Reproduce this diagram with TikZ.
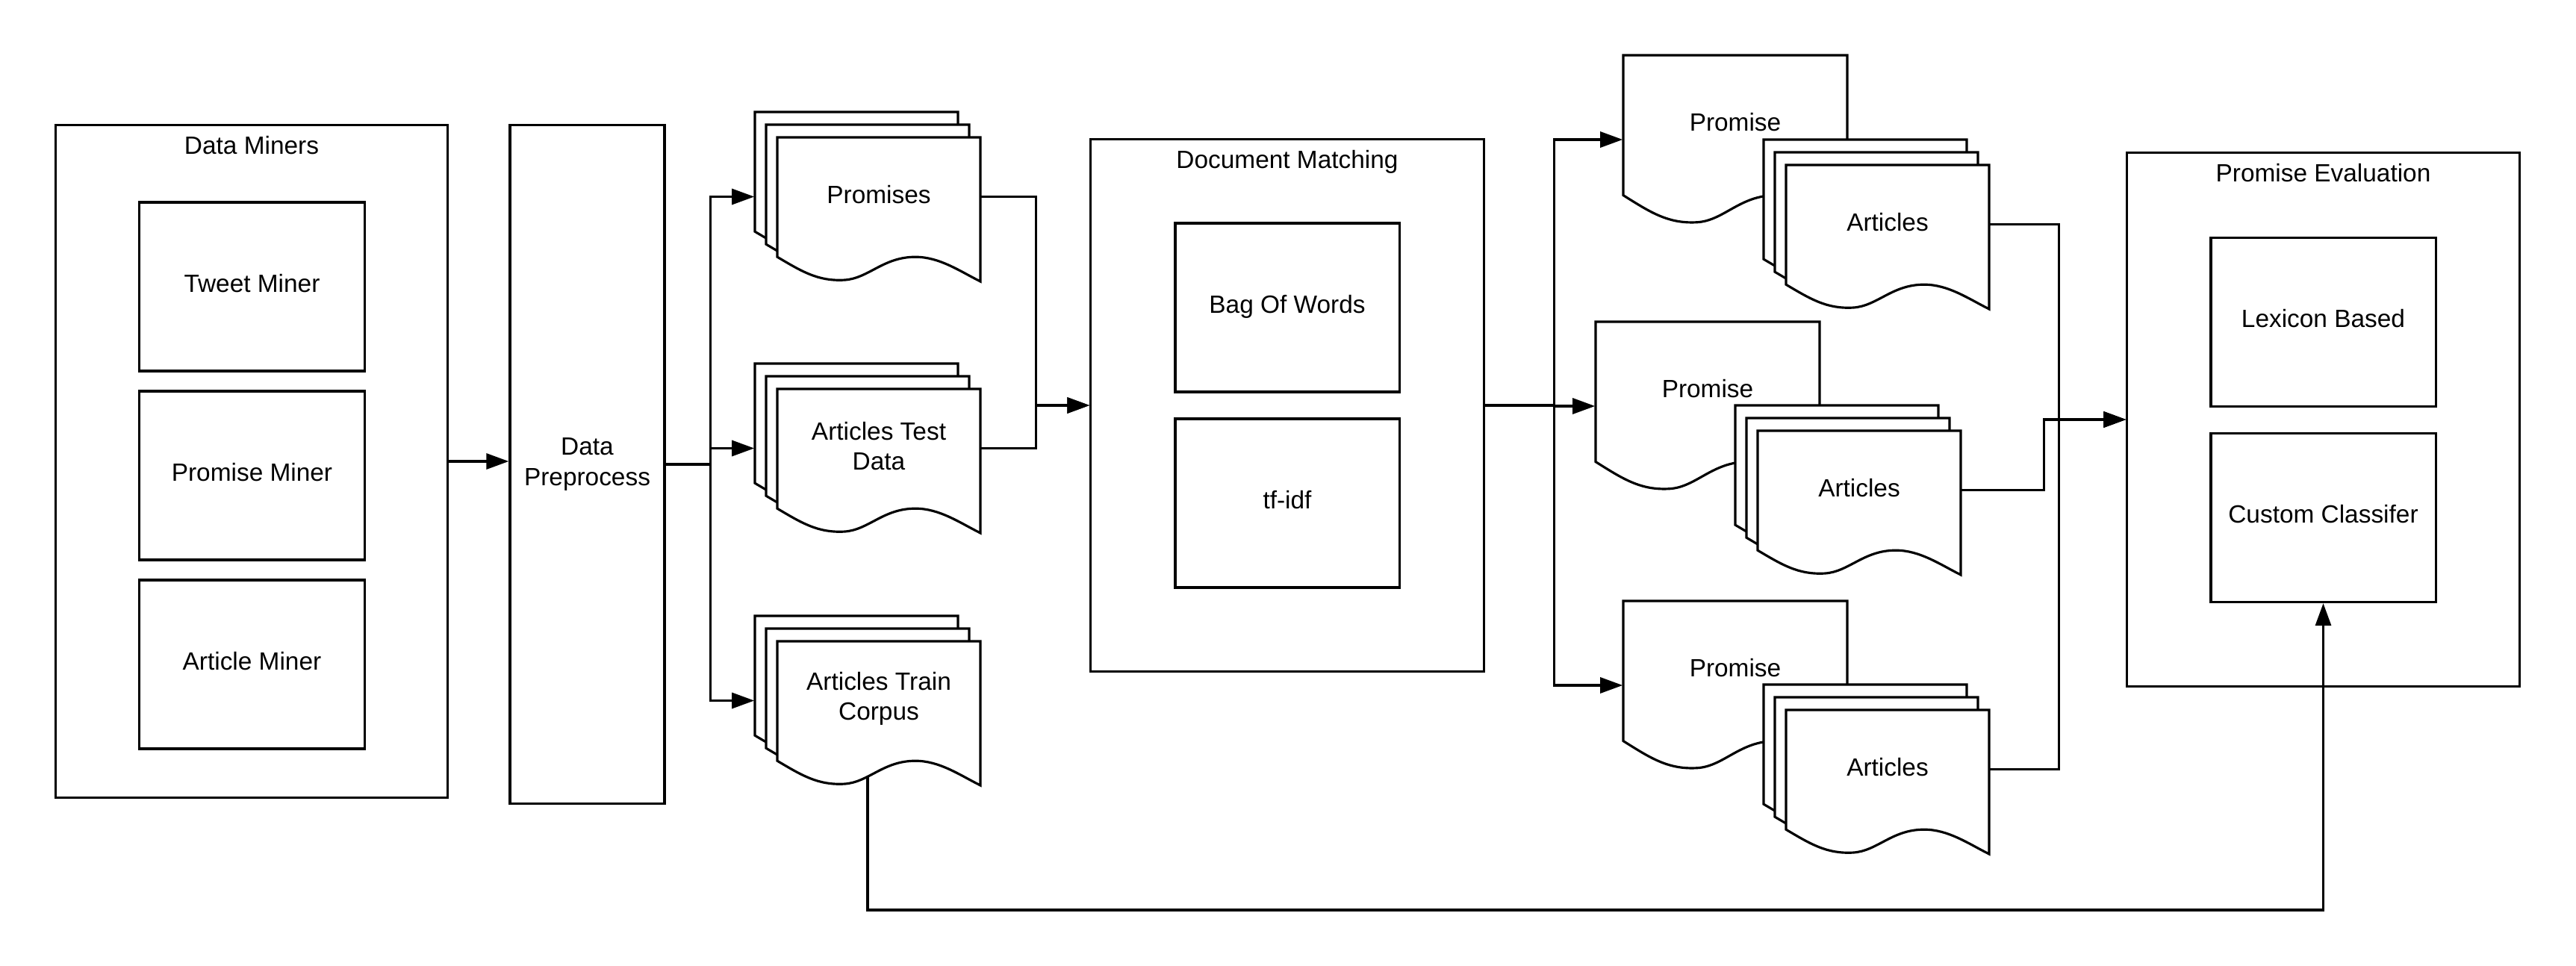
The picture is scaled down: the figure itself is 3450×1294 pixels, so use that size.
\documentclass[tikz,border=0pt]{standalone}
\usepackage{fontspec}
\setmainfont{Liberation Sans}
\usetikzlibrary{arrows.meta,backgrounds}
\newcommand{\fsz}{\fontsize{9.5}{11.4}\selectfont}
\tikzset{lw/.style={line width=0.9pt},
  cont/.style={draw,lw,inner sep=0pt},
  blk/.style={draw,lw,minimum width=3.01cm,minimum height=2.26cm,inner sep=0pt,font=\fsz,text height=0.75em,text depth=0.35em},
  ttl/.style={font=\fsz,inner sep=0pt,anchor=base},
  lbl/.style={font=\fsz,align=center,inner sep=0pt},
  conn/.style={lw,-{Triangle[length=3mm,width=2.1mm]}}}
\newcommand{\docpath}[4]{%
  \filldraw[lw,fill=white] (#1,#2) -- ++(#3,0) -- ++(0,#4)
    .. controls ({#1+0.9*#3},{#2+0.93*#4}) and ({#1+0.8*#3},{#2+0.83*#4}) .. ({#1+0.68*#3},{#2+0.83*#4})
    .. controls ({#1+0.52*#3},{#2+0.83*#4}) and ({#1+0.45*#3},{#2+0.98*#4}) .. ({#1+0.33*#3},{#2+0.99*#4})
    .. controls ({#1+0.2*#3},{#2+1.0*#4}) and ({#1+0.12*#3},{#2+0.93*#4}) .. (#1,{#2+0.83*#4}) -- cycle;}
\newcommand{\docstack}[4]{%
  \docpath{#2}{#3}{272}{193}
  \docpath{#2+15}{#3+17}{272}{193}
  \docpath{#2+30}{#3+34}{272}{193}
  \node[minimum width=3.02cm,minimum height=2.27cm,inner sep=0pt] (#1) at ({#2+151},{#3+113.5}) {};
  \node[lbl] (#1-t) at ({#2+166},{#3+111}) {#4};}
\newcommand{\docone}[4]{%
  \docpath{#2}{#3}{300}{226}
  \node[minimum width=3cm,minimum height=2.26cm,inner sep=0pt] (#1) at ({#2+150},{#3+113}) {};
  \node[lbl] (#1-t) at ({#2+150},{#3+90}) {#4};}
\begin{document}
\begin{tikzpicture}[x=0.01cm,y=-0.01cm]
    \useasboundingbox (0,0) rectangle (3450,1294);

    \node[cont,minimum width=5.24cm,minimum height=9cm] (dm) at (337,618) {};
    \node[ttl] (dmt) at (337,207) {Data Miners};
    \node[blk] (tweet) at (337.5,384) {Tweet Miner};
    \node[blk] (pmin) at (337.5,637) {Promise Miner};
    \node[blk] (amin) at (337.5,890) {Article Miner};

    \node[cont,minimum width=2.07cm,minimum height=9.09cm,font=\fsz,align=center] (pre) at (786.5,622) {Data\\Preprocess};

    \docstack{prom}{1011}{150}{Promises}
    \docstack{testd}{1011}{487}{Articles Test\\Data}
    \docstack{trainc}{1011}{825}{Articles Train\\Corpus}

    \node[cont,minimum width=5.26cm,minimum height=7.12cm] (dmatch) at (1724,543) {};
    \node[ttl] (dmatcht) at (1724,226) {Document Matching};
    \node[blk,minimum width=3cm] (bow) at (1724,412) {Bag Of Words};
    \node[blk,minimum width=3cm] (tfidf) at (1724,674) {tf-idf};

    \docone{p1}{2174}{74}{Promise}
    \docstack{a1}{2362}{187}{Articles}
    \docone{p2}{2137}{431}{Promise}
    \docstack{a2}{2324}{543}{Articles}
    \docone{p3}{2174}{805}{Promise}
    \docstack{a3}{2362}{917}{Articles}

    \node[cont,minimum width=5.25cm,minimum height=7.14cm] (pe) at (3111.5,562) {};
    \node[ttl] (pet) at (3111.5,244) {Promise Evaluation};
    \node[blk] (lex) at (3111.5,431.5) {Lexicon Based};
    \node[blk] (cust) at (3111.5,693.5) {Custom Classifer};

    \draw[conn] (dm) -- (dm -| pre.west);
    \draw[conn] (pre.east) -- ++(60,0) |- (prom);
    \draw[conn] (pre.east) -- ++(60,0) |- (testd);
    \draw[conn] (pre.east) -- ++(60,0) |- (trainc);
    \draw[conn] (prom.east) -- ++(74,0) |- (dmatch);
    \draw[conn] (testd.east) -- ++(74,0) |- (dmatch);
    \draw[conn] (dmatch.east) -- ++(93,0) |- (p1);
    \draw[conn] (dmatch.east) -- ++(93,0) |- (p2);
    \draw[conn] (dmatch.east) -- ++(93,0) |- (p3);
    \draw[conn] (a1.east) -- ++(93,0) |- (pe);
    \draw[conn] (a2.east) -- ++(111,0) |- (pe);
    \draw[conn] (a3.east) -- ++(93,0) |- (pe);
    \begin{pgfonlayer}{background}
    \draw[conn] (trainc.center) -- ++(0,280.5) -| (cust);
    \end{pgfonlayer}
\end{tikzpicture}
\end{document}
